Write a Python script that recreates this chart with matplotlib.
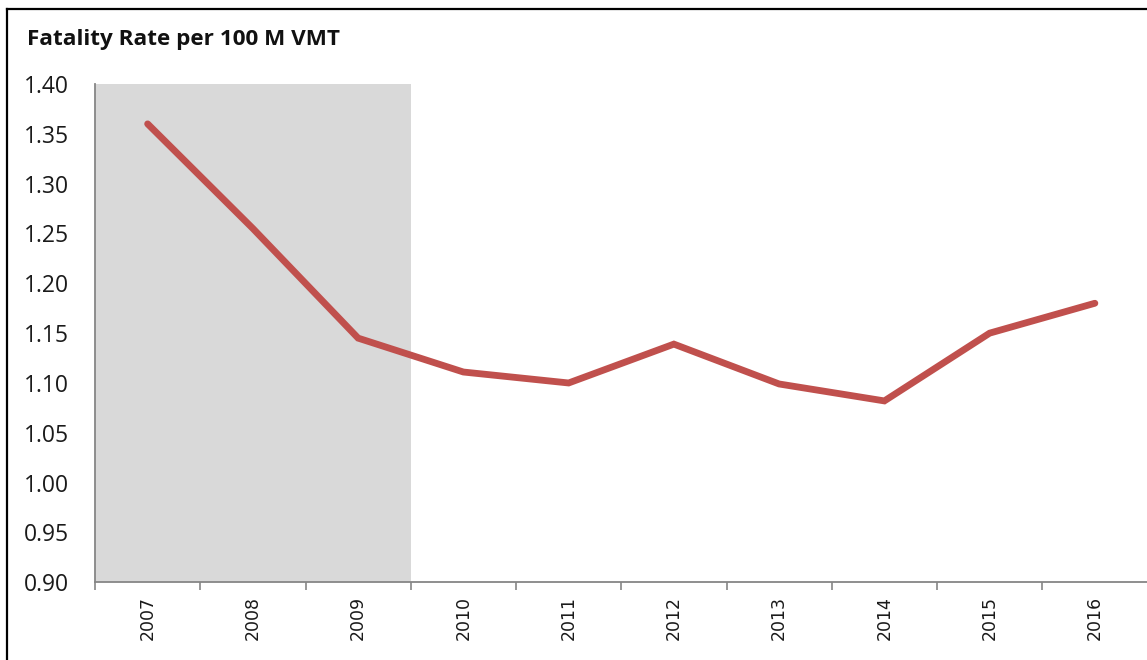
import matplotlib
matplotlib.use("Agg")
import matplotlib.pyplot as plt
from matplotlib.lines import Line2D
import numpy as np

years = ["2007", "2008", "2009", "2010", "2011", "2012", "2013", "2014", "2015", "2016"]
fatality_rate = [1.36, 1.255, 1.145, 1.111, 1.100, 1.139, 1.099, 1.082, 1.150, 1.180]
shaded_years = ["2007", "2008", "2009"]
y_ticks = [0.90, 0.95, 1.00, 1.05, 1.10, 1.15, 1.20, 1.25, 1.30, 1.35, 1.40]
title = "Fatality Rate per 100 M VMT"

W, H = 1147, 660
fig = plt.figure(figsize=(W / 100, H / 100), dpi=100)
fig.patch.set_facecolor("white")

left, right, top, bottom = 95, 1147.5, 84, 582.3
ax = fig.add_axes([left / W, 1 - bottom / H, (right - left) / W, (bottom - top) / H])

x = np.arange(len(years))
ax.set_xlim(-0.5, len(years) - 0.5)
ax.set_ylim(min(y_ticks), max(y_ticks))

n_shade = len(shaded_years)
ax.axvspan(-0.5, n_shade - 0.5, color="#D9D9D9", lw=0, zorder=0)

ax.plot(x, fatality_rate, color="#C0504D", lw=4.9, solid_capstyle="round",
        solid_joinstyle="miter", zorder=3)

# spines
for s in ["top", "right"]:
    ax.spines[s].set_visible(False)
for s in ["left", "bottom"]:
    ax.spines[s].set_color("#868686")
    ax.spines[s].set_linewidth(1.3)

ax.set_yticks(y_ticks)
ax.set_yticklabels([f"{v:.2f}" for v in y_ticks], family="Open Sans", fontsize=16.5,
                   color="#1a1a1a")
ax.tick_params(axis="y", length=0, pad=19)

ax.set_xticks(x)
ax.set_xticklabels(years, rotation=90, family="DejaVu Sans", fontsize=12.5, color="#1a1a1a")
ax.tick_params(axis="x", which="major", length=0, pad=10)
ax.set_xticks(np.arange(-0.5, len(years) + 0.5, 1), minor=True)
ax.tick_params(axis="x", which="minor", length=6, width=1.2, color="#868686")

fig.text(27 / W, 1 - 40 / H, title, family="Open Sans", fontweight="bold", fontsize=16.2,
         ha="left", va="center", color="#111111")

# outer border (left and top visible)
fig.add_artist(Line2D([7.5 / W, 7.5 / W], [0, 1 - 9 / H], color="black", lw=1.6,
                      transform=fig.transFigure))
fig.add_artist(Line2D([7.5 / W, 1], [1 - 9 / H, 1 - 9 / H], color="black", lw=1.6,
                      transform=fig.transFigure))

fig.savefig("out.png", dpi=100)
